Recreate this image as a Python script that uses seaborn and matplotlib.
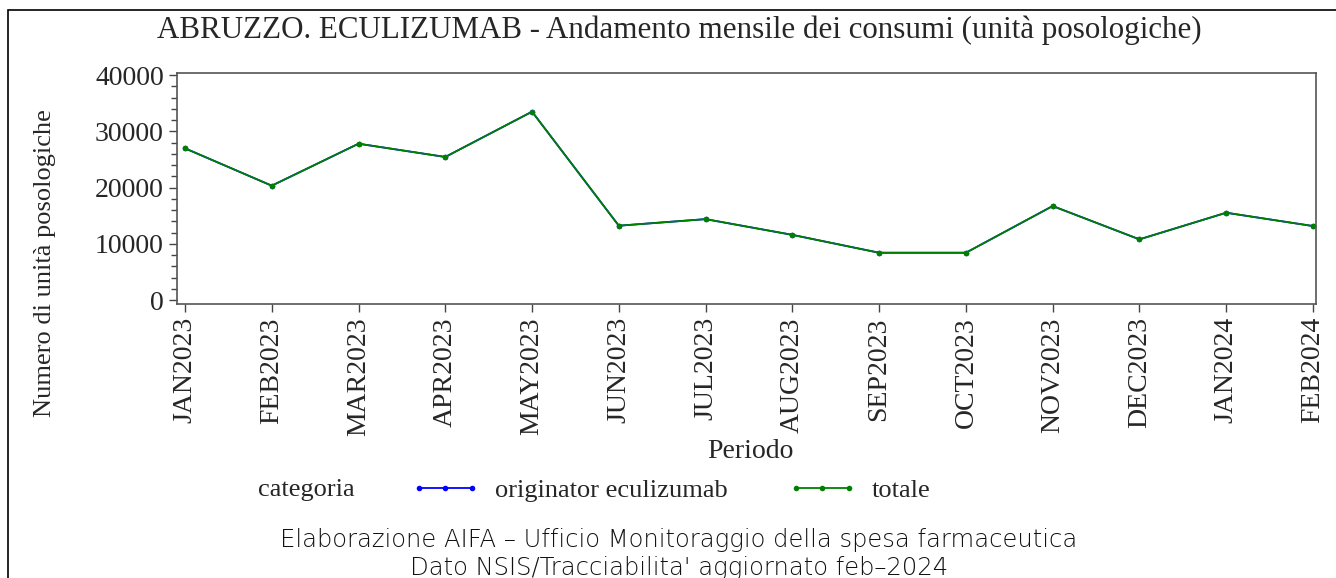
import pandas as pd
import matplotlib
matplotlib.use("Agg")
import matplotlib.pyplot as plt
from matplotlib.patches import Rectangle
from matplotlib.ticker import MultipleLocator
import seaborn as sns

# data
periodi = ['JAN2023', 'FEB2023', 'MAR2023', 'APR2023', 'MAY2023', 'JUN2023', 'JUL2023',
           'AUG2023', 'SEP2023', 'OCT2023', 'NOV2023', 'DEC2023', 'JAN2024', 'FEB2024']
originator = [27000, 20350, 27820, 25460, 33520, 13230, 14400,
              11600, 8420, 8420, 16730, 10800, 15540, 13170]
totale = [27000, 20350, 27820, 25460, 33520, 13230, 14400,
          11600, 8420, 8420, 16730, 10800, 15540, 13170]
categorie = ['originator eculizumab', 'totale']
colori = ['#0000ff', '#008000']

df = pd.DataFrame({
    'periodo': periodi * 2,
    'valore': originator + totale,
    'categoria': [categorie[0]] * len(periodi) + [categorie[1]] * len(periodi),
})

sns.set_style("white")
plt.rcParams['font.family'] = ['Liberation Serif', 'DejaVu Serif']

W, H = 1336, 578
fig = plt.figure(figsize=(W / 100, H / 100), dpi=100)
ax = fig.add_axes([177 / W, 1 - 304 / H, (1316 - 177) / W, (304 - 73) / H])

sns.lineplot(data=df, x='periodo', y='valore', hue='categoria', palette=colori,
             marker='o', markersize=4, markeredgewidth=0, linewidth=1.3, sort=False, ax=ax)

ax.set_xlim(-0.092, 13.035)
ax.set_ylim(-700, 40400)
ax.yaxis.set_major_locator(MultipleLocator(10000))
ax.yaxis.set_minor_locator(MultipleLocator(2000))
ax.tick_params(axis='y', which='major', direction='out', length=6, width=1, color='#444444',
               labelsize=20, left=True)
ax.tick_params(axis='y', which='minor', direction='out', length=4, width=1, color='#444444', left=True)
ax.tick_params(axis='x', direction='out', length=6, width=1, color='#444444', labelsize=20,
               labelrotation=90, bottom=True)
ax.set_xlabel('')
ax.set_ylabel('')
for s in ax.spines.values():
    s.set_color('#555555')
    s.set_linewidth(1.2)

# legend
handles, labels = ax.get_legend_handles_labels()
ax.get_legend().remove()
fig.text(258 / W, 1 - 490 / H, 'categoria', fontsize=19, ha='left', va='center')
fig.legend(handles, labels, loc='center left', bbox_to_anchor=(411 / W, 1 - 490 / H),
           ncol=2, frameon=False, fontsize=19, handlelength=2.6, handletextpad=0.57,
           columnspacing=2.3, borderpad=0, borderaxespad=0, numpoints=3)

# texts
fig.text(679 / W, 1 - 30 / H,
         "ABRUZZO. ECULIZUMAB - Andamento mensile dei consumi (unità posologiche)",
         fontsize=22.3, ha='center', va='center')
fig.text(45 / W, 1 - 263 / H, 'Numero di unità posologiche', fontsize=19,
         rotation=90, ha='center', va='center')
fig.text(750 / W, 1 - 452 / H, 'Periodo', fontsize=20, ha='center', va='center')
fig.text(679 / W, 1 - 540 / H,
         "Elaborazione AIFA \u2013 Ufficio Monitoraggio della spesa farmaceutica",
         fontsize=17.5, ha='center', va='center', family=['DejaVu Sans'], fontweight='light',
         color='#111111')
fig.text(679 / W, 1 - 568 / H,
         "Dato NSIS/Tracciabilita' aggiornato feb\u20132024",
         fontsize=17.5, ha='center', va='center', family=['DejaVu Sans'], fontweight='light',
         color='#111111')

# outer frame
fig.patches.append(Rectangle((8 / W, -0.1), 1.1, 1 - 10 / H + 0.1, transform=fig.transFigure,
                             fill=False, edgecolor='black', linewidth=1.2))

fig.savefig('out.png', dpi=100)
